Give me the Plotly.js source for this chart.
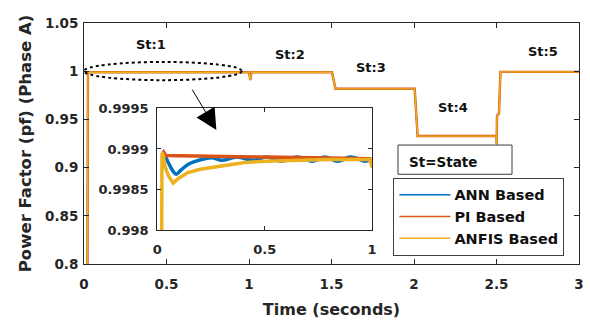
<!DOCTYPE html>
<html>
<head>
<meta charset="utf-8">
<script src="https://cdn.plot.ly/plotly-3.0.1.min.js"></script>
<style>
  html, body { margin: 0; padding: 0; background: #fff; }
  #chart { width: 590px; height: 325px; }
</style>
</head>
<body>
<div id="chart"></div>
<script>
// ---------- data ----------
const seriesNames = ['ANN Based', 'PI Based', 'ANFIS Based'];
const seriesColors = ['#0072BD', '#D95319', '#EDB120'];

// main plot: time (s) and power factor
const mainTime = [0, 0.02, 0.024, 0.03, 1.0, 1.004, 1.008, 1.012, 1.016, 1.503, 1.524, 2.004, 2.022, 2.5, 2.501, 2.503, 2.515, 2.524, 3.0];
const mainANN   = [0.75, 0.75, 0.9989, 0.9989, 0.9989, 0.9950, 0.9908, 0.9950, 0.9989, 0.9989, 0.9817, 0.9817, 0.9327, 0.9327, 0.9240, 0.9530, 0.9560, 0.9993, 0.9993];
const mainPI    = [0.75, 0.75, 0.9989, 0.9989, 0.9989, 0.9952, 0.9910, 0.9952, 0.9989, 0.9989, 0.9818, 0.9818, 0.9328, 0.9328, 0.9245, 0.9535, 0.9560, 0.9993, 0.9993];
const mainANFIS = [0.75, 0.75, 0.9989, 0.9989, 0.9989, 0.9950, 0.9907, 0.9950, 0.9989, 0.9989, 0.9817, 0.9817, 0.9327, 0.9327, 0.9240, 0.9530, 0.9555, 0.9993, 0.9993];

// zoomed inset (0 - 1 s)
const insetTimeANN = [0.026, 0.03, 0.05, 0.07, 0.089, 0.11, 0.143, 0.18, 0.22, 0.26, 0.30, 0.37, 0.45, 0.51, 0.58, 0.65, 0.72, 0.78, 0.84, 0.90, 0.967, 0.99, 1.0];
const insetANN     = [0.99896, 0.99895, 0.99884, 0.99874, 0.99869, 0.99874, 0.99881, 0.99885, 0.99888, 0.99889, 0.99886, 0.99890, 0.99886, 0.99890, 0.99885, 0.99890, 0.99885, 0.99890, 0.99885, 0.99890, 0.99885, 0.99886, 0.99878];
const insetTimePI  = [0.024, 0.03, 0.04, 0.2, 0.5, 0.8, 0.99, 1.0];
const insetPI      = [0.99893, 0.99896, 0.99892, 0.99891, 0.99890, 0.99889, 0.99888, 0.99884];
const insetTimeANFIS = [0, 0.02, 0.022, 0.026, 0.035, 0.05, 0.074, 0.1, 0.143, 0.2, 0.3, 0.4, 0.5, 0.6, 0.7, 0.8, 0.9, 0.99, 1.0];
const insetANFIS     = [0.9975, 0.9975, 0.99895, 0.99894, 0.99880, 0.99868, 0.99858, 0.99864, 0.99871, 0.99875, 0.99879, 0.99883, 0.99885, 0.99886, 0.99886, 0.99887, 0.99887, 0.99887, 0.99877];

const mainXTicks = [0, 0.5, 1, 1.5, 2, 2.5, 3];
const mainYTicks = [0.8, 0.85, 0.9, 0.95, 1, 1.05];
const insetXTicks = [0, 0.5, 1];
const insetXLabels = ['0', '0.5', '1'];
const insetYTicks = [0.998, 0.9985, 0.999, 0.9995];
const insetYLabels = ['0.998', '0.9985', '0.999', '0.9995'];
const stateLabels = ['St:1', 'St:2', 'St:3', 'St:4', 'St:5'];

// ---------- traces ----------
const FONT = 'DejaVu Sans, Liberation Sans, Arial, sans-serif';
const mainSeries = [mainANN, mainPI, mainANFIS];
const mainWidths = [1.5, 2.4, 1.4];
const insetTimes = [insetTimeANN, insetTimePI, insetTimeANFIS];
const insetSeries = [insetANN, insetPI, insetANFIS];

const traces = [];
mainSeries.forEach((ys, i) => {
  traces.push({
    type: 'scatter', mode: 'lines', x: mainTime, y: ys, name: seriesNames[i],
    line: { color: seriesColors[i], width: mainWidths[i] },
    xaxis: 'x', yaxis: 'y', showlegend: true
  });
});
insetSeries.forEach((ys, i) => {
  traces.push({
    type: 'scatter', mode: 'lines', x: insetTimes[i], y: ys, name: seriesNames[i],
    line: { color: seriesColors[i], width: 3.5, shape: i === 0 ? 'spline' : 'linear' },
    xaxis: 'x2', yaxis: 'y2', showlegend: false
  });
});

// ---------- layout ----------
const axisCommon = {
  showline: true, linecolor: '#262626', linewidth: 1, mirror: 'ticks',
  ticks: 'inside', tickcolor: '#262626', showgrid: false, zeroline: false,
  automargin: false
};
const stateX = [0.404, 1.247, 1.741, 2.236, 2.78];
const stateY = [1.028, 1.0176, 1.0036, 0.9622, 1.0207];

const annotations = stateLabels.map((t, i) => ({
  text: t, x: stateX[i], y: stateY[i], xref: 'x', yref: 'y', showarrow: false,
  font: { family: FONT, size: 13, color: '#111', weight: 'bold' }
}));
annotations.push({
  text: 'St=State', x: 1.958, y: 0.9055, xref: 'x', yref: 'y', xanchor: 'left', showarrow: false,
  font: { family: FONT, size: 13.5, color: '#111', weight: 'bold' }
});
annotations.push({
  text: '', x: 0.802, y: 0.9389, xref: 'x', yref: 'y', showarrow: true,
  ax: -25, ay: -42, arrowhead: 2, arrowsize: 4.2, arrowwidth: 1, arrowcolor: '#000'
});

const layout = {
  width: 590, height: 325,
  margin: { l: 84, r: 11, t: 23, b: 61 },
  paper_bgcolor: '#fff', plot_bgcolor: '#fff',
  font: { family: FONT, color: '#262626' },
  xaxis: Object.assign({}, axisCommon, {
    range: [0, 3], tickvals: mainXTicks, ticklen: 5, ticklabelstandoff: 8,
    tickfont: { family: FONT, size: 13.5, weight: 'bold', color: '#262626' },
    title: { text: 'Time (seconds)', standoff: 12, font: { family: FONT, size: 16, weight: 'bold', color: '#262626' } }
  }),
  yaxis: Object.assign({}, axisCommon, {
    range: [0.8, 1.05], tickvals: mainYTicks, ticklen: 5, ticklabelstandoff: 2,
    tickfont: { family: FONT, size: 13.5, weight: 'bold', color: '#262626' },
    title: { text: 'Power Factor (pf) (Phase A)', standoff: 9, font: { family: FONT, size: 16.5, weight: 'bold', color: '#262626' } }
  }),
  xaxis2: Object.assign({}, axisCommon, {
    domain: [0.148, 0.582], anchor: 'y2', range: [0, 1],
    tickvals: insetXTicks, ticktext: insetXLabels, ticklen: 4, ticklabelstandoff: 7,
    tickfont: { family: FONT, size: 13, weight: 'bold', color: '#262626' }
  }),
  yaxis2: Object.assign({}, axisCommon, {
    domain: [0.140, 0.646], anchor: 'x2', range: [0.998, 0.9995],
    tickvals: insetYTicks, ticktext: insetYLabels, ticklen: 4, ticklabelstandoff: 5,
    tickfont: { family: FONT, size: 13, weight: 'bold', color: '#262626' }
  }),
  shapes: [
    { type: 'circle', xref: 'x', yref: 'y', x0: 0, x1: 0.956, y0: 0.9907, y1: 1.0096,
      line: { color: '#000', width: 2, dash: 'dot' } },
    { type: 'rect', xref: 'x', yref: 'y', x0: 1.903, x1: 2.594, y0: 0.8931, y1: 0.9234,
      fillcolor: '#fff', line: { color: '#3a3a3a', width: 1 } }
  ],
  annotations: annotations,
  legend: {
    x: 0.625, y: 0.358, xanchor: 'left', yanchor: 'top',
    bgcolor: '#fff', bordercolor: '#404040', borderwidth: 1,
    itemwidth: 50, tracegroupgap: 0,
    font: { family: FONT, size: 14.5, weight: 'bold', color: '#111' }
  },
  showlegend: true
};

Plotly.newPlot('chart', traces, layout, { staticPlot: true, displayModeBar: false }).then(() => {
  document.querySelectorAll('.legend .legendlines path').forEach(p => {
    p.setAttribute('d', 'M5,0h51');
    p.style.strokeWidth = '1.5px';
  });
});
</script>
</body>
</html>
